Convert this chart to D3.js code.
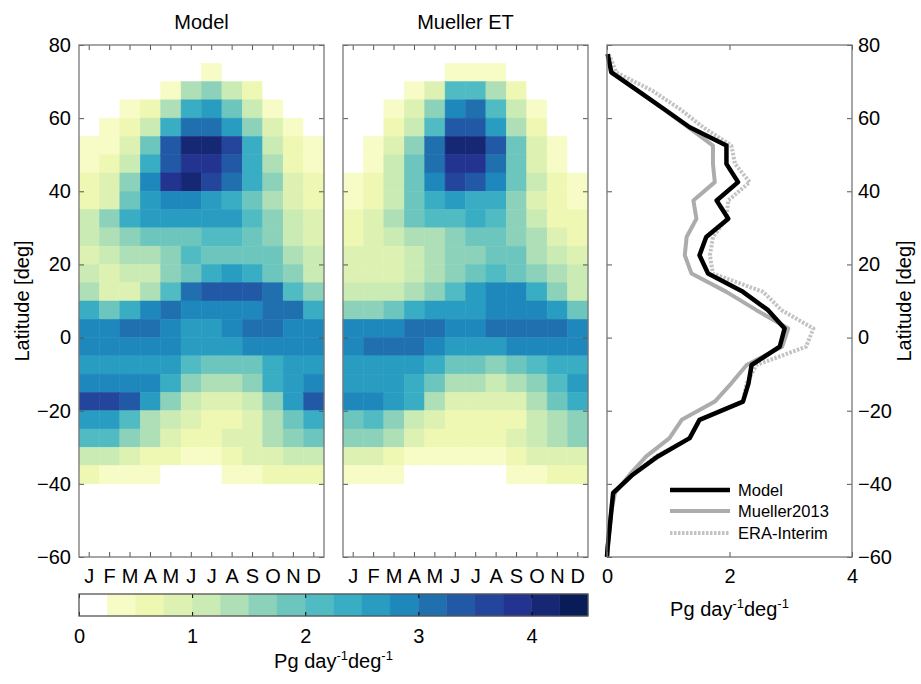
<!DOCTYPE html>
<html><head><meta charset="utf-8">
<script src="https://cdn.jsdelivr.net/npm/d3@7"></script>
<style>
body{margin:0;background:#fff}
svg{display:block}
text{font-family:"Liberation Sans",Arial,Helvetica,sans-serif;fill:#000}
</style>
</head><body><svg id="c" width="921" height="684"></svg>
<script>
// ---------------- data ----------------
const months = ["J","F","M","A","M","J","J","A","S","O","N","D"];
// upper edge of each 5-degree latitude band (band = [top-5, top])
const bandTops = [75,70,65,60,55,50,45,40,35,30,25,20,15,10,5,0,-5,-10,-15,-20,-25,-30,-35];

// ET, Pg day^-1 deg^-1 (0 = no data / white)
const modelET = [
 [0,0,0,0,0,0,0.4,0,0,0,0,0],
 [0,0,0,0,0.4,1.4,1.6,1.1,0.6,0,0,0],
 [0,0,0.4,0.6,1.4,2.4,2.6,1.9,1.1,0.4,0,0],
 [0,0.4,0.6,1.1,2.4,3.1,3.1,2.6,1.7,0.9,0.4,0],
 [0.4,0.4,0.9,1.9,3.4,4.1,4.1,3.6,2.4,1.1,0.6,0.4],
 [0.4,0.6,1.1,2.4,3.4,3.9,3.9,3.4,2.4,1.4,0.6,0.4],
 [0.6,0.9,1.6,2.9,3.9,4.1,3.6,3.1,2.4,1.6,0.9,0.6],
 [0.6,0.9,1.9,2.6,2.9,2.9,2.6,2.4,1.9,1.4,0.9,0.6],
 [1.1,1.6,2.4,2.6,2.6,2.6,2.6,2.6,2.1,1.6,1.1,0.9],
 [1.1,1.4,1.6,1.9,1.9,1.9,2.1,2.1,1.9,1.6,1.1,0.9],
 [0.9,1.1,1.4,1.4,1.6,2.1,1.9,1.9,1.9,1.9,1.4,1.1],
 [1.1,0.9,1.1,1.1,1.6,1.9,2.4,2.6,2.4,1.9,1.6,1.1],
 [1.4,0.9,0.9,1.4,2.1,3.1,3.4,3.4,3.4,3.1,2.1,1.6],
 [2.4,1.9,2.4,2.9,3.1,2.9,2.9,2.9,2.9,3.1,3.1,2.4],
 [2.9,2.9,3.1,3.1,2.9,2.6,2.6,2.9,3.1,3.1,2.9,2.9],
 [2.9,2.9,2.9,2.9,2.9,2.6,2.6,2.6,2.9,2.9,2.9,2.9],
 [2.6,2.6,2.6,2.6,2.6,2.1,1.9,1.9,1.9,2.4,2.6,2.6],
 [2.9,2.9,2.9,2.9,2.4,1.6,1.4,1.4,1.6,2.4,2.6,2.9],
 [3.6,3.6,3.4,2.6,1.6,1.1,0.9,0.9,1.1,1.6,2.6,3.4],
 [2.6,2.6,2.1,1.4,1.1,0.9,0.6,0.6,0.9,1.4,1.9,2.4],
 [2.1,2.1,1.6,1.4,0.9,0.6,0.6,0.9,0.9,1.4,1.6,1.9],
 [1.1,1.1,0.9,0.6,0.6,0.4,0.4,0.6,0.9,0.9,1.1,1.1],
 [0.6,0.4,0.4,0.4,0,0,0,0.4,0.4,0.6,0.6,0.6]
];
const muellerET = [
 [0,0,0,0,0,0.4,0.4,0.4,0,0,0,0],
 [0,0,0,0.4,0.9,2.1,2.1,1.4,0.6,0,0,0],
 [0,0,0.4,0.9,1.6,2.9,3.1,2.1,1.1,0.4,0,0],
 [0,0,0.6,1.1,2.1,3.4,3.4,2.6,1.4,0.6,0,0],
 [0,0.4,0.9,1.6,3.1,4.1,4.1,3.4,1.9,0.9,0.4,0],
 [0,0.4,1.1,1.9,3.1,3.9,3.9,3.1,1.9,0.9,0.4,0],
 [0.4,0.6,1.1,1.9,2.9,3.6,3.4,2.9,1.9,1.1,0.6,0.4],
 [0.4,0.6,1.1,1.9,2.4,2.6,2.4,2.4,1.6,0.9,0.6,0.4],
 [0.6,0.9,1.4,1.9,2.1,2.1,2.4,2.1,1.6,1.1,0.6,0.6],
 [0.6,0.9,1.1,1.4,1.4,1.6,1.9,1.9,1.6,1.4,0.9,0.6],
 [0.9,0.9,0.9,1.1,1.4,1.6,1.6,1.9,1.9,1.4,1.1,0.9],
 [0.9,0.9,0.9,1.1,1.4,1.6,1.9,2.1,1.9,1.6,1.4,1.1],
 [1.1,1.1,1.1,1.4,1.6,2.1,2.6,2.9,2.9,2.4,1.6,1.1],
 [1.6,1.6,1.9,2.4,2.6,2.6,2.6,2.9,2.9,2.9,2.6,1.9],
 [2.9,2.9,2.9,3.1,3.1,2.9,2.9,3.1,3.1,3.1,3.1,2.9],
 [2.9,3.1,3.1,3.1,2.9,2.6,2.6,2.6,2.9,2.9,2.9,2.9],
 [2.6,2.6,2.6,2.6,2.4,1.9,1.9,1.6,1.9,2.1,2.4,2.4],
 [2.6,2.6,2.6,2.4,1.9,1.4,1.4,1.1,1.4,1.6,2.1,2.6],
 [2.9,2.9,2.6,2.4,1.4,0.9,0.9,0.9,0.9,1.4,1.9,2.4],
 [1.9,2.1,1.6,1.1,0.9,0.6,0.6,0.6,0.6,1.1,1.4,1.6],
 [1.6,1.6,1.4,0.9,0.6,0.6,0.6,0.6,0.9,1.1,1.4,1.6],
 [0.9,0.9,0.6,0.4,0.4,0.4,0.4,0.4,0.6,0.9,0.9,0.9],
 [0.4,0.4,0.4,0,0,0,0,0,0.4,0.4,0.6,0.6]
];

// zonal annual means
const lineLats    = [77.5,72.5,67.5,62.5,57.5,52.5,47.5,42.5,37.5,32.5,27.5,22.5,17.5,12.5,7.5,2.5,-2.5,-7.5,-12.5,-17.5,-22.5,-27.5,-32.5,-37.5,-42.5,-47.5,-52.5,-57.5,-60];
const modelLine   = [0.01,0.07,0.50,0.93,1.35,1.95,1.95,2.14,1.79,1.98,1.62,1.51,1.65,2.22,2.63,2.90,2.82,2.36,2.31,2.22,1.51,1.35,0.83,0.42,0.10,0.07,0.04,0.01,0];
const muellerLine = [0.01,0.08,0.50,0.92,1.33,1.73,1.73,1.76,1.41,1.46,1.30,1.27,1.38,1.95,2.44,2.96,2.86,2.28,2.03,1.76,1.22,1.02,0.64,0.37,0.13,0.07,0.04,0.01,0];
const eraLine     = [0.03,0.15,0.74,1.19,1.57,2.03,2.09,2.33,1.98,1.95,1.73,1.68,1.73,2.55,2.85,3.37,3.25,2.44,2.28,2.22,1.51,1.35,0.80,0.42,0.10,0.07,0.04,0.01,0];

const latTicks = [80,60,40,20,0,-20,-40,-60];
const xTicks = [0,2,4];
const cbTicks = [0,1,2,3,4];
const seriesNames = ["Model","Mueller2013","ERA-Interim"];

// ---------------- drawing ----------------
const palette9 = ["#ffffd9","#edf8b1","#c7e9b4","#7fcdbb","#41b6c4","#1d91c0","#225ea8","#253494","#081d58"];
const interp = d3.piecewise(d3.interpolateRgb, palette9);
const binEdges = d3.range(1,18).map(k => k*0.25);
const colors = ["#ffffff", ...d3.range(1,18).map(k => interp(k/17))];
const color = d3.scaleThreshold(binEdges, colors);

const svg = d3.select("#c");
const Y0 = 45, Y1 = 557;
const lat = d3.scaleLinear([-60,80],[Y1,Y0]);
const FS = 20;
const AX = "#555";

function styleAxis(g){
  g.select(".domain").remove();
  g.attr("font-size", FS).attr("font-family", null).attr("color", AX);
  g.selectAll("text").style("fill","#000");
  g.selectAll("line").attr("stroke-width",1);
}

function heatmap(x0, x1, data, title, showLabels){
  const g = svg.append("g");
  const xs = d3.scaleBand(d3.range(12), [x0, x1]);
  const cells = data.flatMap((row,i) => row.map((v,j) => ({v,i,j})));
  g.selectAll("rect.cell").data(cells).join("rect")
    .attr("class","cell")
    .attr("x", d => xs(d.j))
    .attr("y", d => lat(bandTops[d.i]))
    .attr("width", xs.bandwidth())
    .attr("height", d => lat(bandTops[d.i]-5) - lat(bandTops[d.i]))
    .attr("fill", d => color(d.v))
    .attr("stroke", d => color(d.v))
    .attr("stroke-width", 0.5);
  g.append("g").attr("transform",`translate(0,${Y1})`)
    .call(d3.axisBottom(xs).tickSize(-5).tickPadding(12).tickFormat(i => months[i])).call(styleAxis);
  g.append("g").attr("transform",`translate(0,${Y0})`)
    .call(d3.axisTop(xs).tickSize(-5).tickFormat("")).call(styleAxis);
  g.append("g").attr("transform",`translate(${x0},0)`)
    .call(d3.axisLeft(lat).tickValues(latTicks).tickSize(-5).tickPadding(8)
      .tickFormat(showLabels ? d3.format("d") : "")).call(styleAxis);
  g.append("g").attr("transform",`translate(${x1},0)`)
    .call(d3.axisRight(lat).tickValues(latTicks).tickSize(-5).tickFormat("")).call(styleAxis);
  g.append("rect").attr("x",x0).attr("y",Y0).attr("width",x1-x0).attr("height",Y1-Y0)
    .attr("fill","none").attr("stroke","#777").attr("stroke-width",1.3);
  svg.append("text").attr("x",(x0+x1)/2).attr("y",29).attr("text-anchor","middle")
    .attr("font-size",FS).text(title);
}

heatmap(79, 324, modelET, "Model", true);
heatmap(343, 588, muellerET, "Mueller ET", false);

// ---- line panel ----
const LX0 = 607, LX1 = 852;
const xl = d3.scaleLinear([0,4],[LX0,LX1]);
const gl = svg.append("g");
const line = d3.line().x(d => xl(d[0])).y(d => lat(d[1]));
const series = [
  {vals: eraLine, stroke:"#c3c3c3", w:4, dash:"2.5,1.5"},
  {vals: muellerLine, stroke:"#acacac", w:4, dash:null},
  {vals: modelLine, stroke:"#000", w:4.5, dash:null}
];
series.forEach(s => {
  gl.append("path").datum(s.vals.map((v,i) => [v, lineLats[i]]))
    .attr("d", line).attr("fill","none").attr("stroke", s.stroke)
    .attr("stroke-width", s.w).attr("stroke-linejoin","round")
    .attr("stroke-dasharray", s.dash);
});
gl.append("g").attr("transform",`translate(0,${Y1})`)
  .call(d3.axisBottom(xl).tickValues(xTicks).tickSize(-5).tickPadding(12).tickFormat(d3.format("d"))).call(styleAxis);
gl.append("g").attr("transform",`translate(0,${Y0})`)
  .call(d3.axisTop(xl).tickValues(xTicks).tickSize(-5).tickFormat("")).call(styleAxis);
gl.append("g").attr("transform",`translate(${LX0},0)`)
  .call(d3.axisLeft(lat).tickValues(latTicks).tickSize(-5).tickFormat("")).call(styleAxis);
gl.append("g").attr("transform",`translate(${LX1},0)`)
  .call(d3.axisRight(lat).tickValues(latTicks).tickSize(-5).tickPadding(6).tickFormat(d3.format("d"))).call(styleAxis);
gl.append("rect").attr("x",LX0).attr("y",Y0).attr("width",LX1-LX0).attr("height",Y1-Y0)
  .attr("fill","none").attr("stroke","#777").attr("stroke-width",1.3);

// legend
const legY = [490, 511, 533];
[series[2], series[1], series[0]].forEach((s,i) => {
  gl.append("line").attr("x1",670).attr("x2",730).attr("y1",legY[i]).attr("y2",legY[i])
    .attr("stroke", s.stroke).attr("stroke-width", s.w).attr("stroke-dasharray", s.dash);
  gl.append("text").attr("x",738).attr("y",legY[i]+6).attr("font-size",16.5).text(seriesNames[i]);
});

// units label helper
function unitLabel(x, y){
  const t = svg.append("text").attr("x",x).attr("y",y).attr("text-anchor","middle").attr("font-size",FS);
  t.append("tspan").text("Pg day");
  t.append("tspan").attr("dy",-8).attr("font-size",13).text("-1");
  t.append("tspan").attr("dy",8).text("deg");
  t.append("tspan").attr("dy",-8).attr("font-size",13).text("-1");
}
unitLabel((LX0+LX1)/2, 616);

// ---- colorbar ----
const CY0 = 594, CY1 = 616;
const cb = d3.scaleLinear([0,4.5],[79,588]);
const bins = d3.range(18);
svg.append("g").selectAll("rect").data(bins).join("rect")
  .attr("x", k => cb(k*0.25)).attr("y", CY0)
  .attr("width", cb(0.25)-cb(0)).attr("height", CY1-CY0)
  .attr("fill", k => colors[k]).attr("stroke", k => colors[k]).attr("stroke-width",0.4);
svg.append("g").attr("transform",`translate(0,${CY1})`)
  .call(d3.axisBottom(cb).tickValues(cbTicks).tickSize(0).tickPadding(13).tickFormat(d3.format("d"))).call(styleAxis);
svg.append("g").attr("transform",`translate(0,${CY1})`)
  .call(d3.axisTop(cb).tickValues(cbTicks).tickSize(4).tickFormat("")).call(styleAxis)
  .attr("color","#000");
svg.append("g").attr("transform",`translate(0,${CY0})`)
  .call(d3.axisBottom(cb).tickValues(cbTicks).tickSize(4).tickFormat("")).call(styleAxis)
  .attr("color","#000");
svg.append("rect").attr("x",79).attr("y",CY0).attr("width",588-79).attr("height",CY1-CY0)
  .attr("fill","none").attr("stroke","#555").attr("stroke-width",1.3);
unitLabel((79+588)/2, 668);

// y labels
svg.append("text").attr("transform","translate(29,301) rotate(-90)")
  .attr("text-anchor","middle").attr("font-size",FS).text("Latitude [deg]");
svg.append("text").attr("transform","translate(911,301) rotate(-90)")
  .attr("text-anchor","middle").attr("font-size",FS).text("Latitude [deg]");
</script>
</body></html>
